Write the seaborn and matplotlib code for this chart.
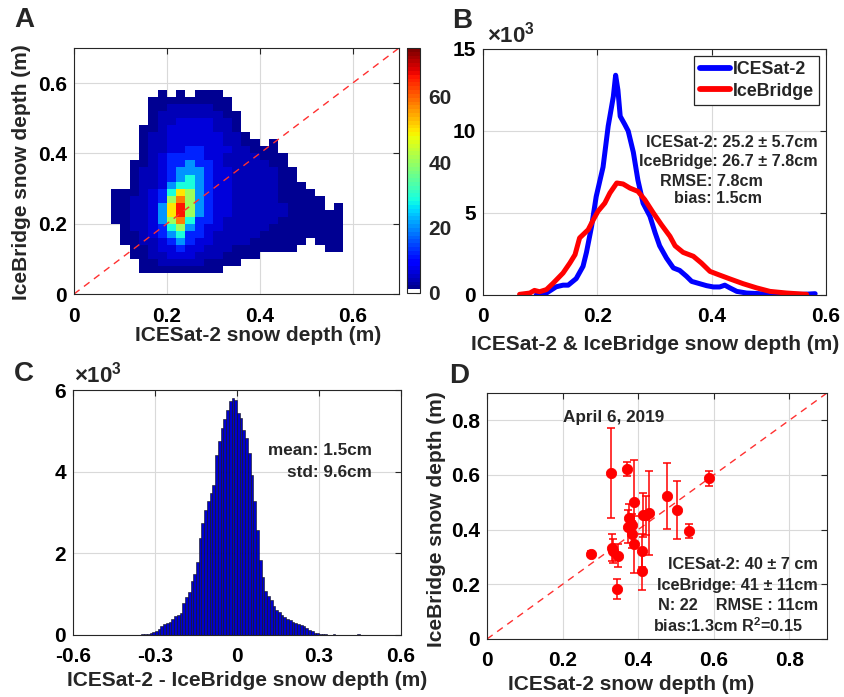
import numpy as np
import pandas as pd
import matplotlib
matplotlib.use("Agg")
import matplotlib.pyplot as plt
from matplotlib.colors import ListedColormap
import seaborn as sns

# ---- A: 2D histogram, counts on a 0.02 m grid ----
dens_x = [0.09, 0.11, 0.13, 0.15, 0.17, 0.19, 0.21, 0.23, 0.25, 0.27, 0.29, 0.31, 0.33,
          0.35, 0.37, 0.39, 0.41, 0.43, 0.45, 0.47, 0.49, 0.51, 0.53, 0.55, 0.57, 0.59]
dens_y = [0.57, 0.55, 0.53, 0.51, 0.49, 0.47, 0.45, 0.43, 0.41, 0.39, 0.37, 0.35, 0.33,
          0.31, 0.29, 0.27, 0.25, 0.23, 0.21, 0.19, 0.17, 0.15, 0.13, 0.11, 0.09, 0.07]
# one string per row (top row first), one character per column
dens_rows = [
    "." * 5 + "1.1.111" + "." * 14,
    "." * 4 + "111111111" + "." * 13,
    "." * 4 + "112222211" + "." * 13,
    "." * 4 + "1222222211" + "." * 12,
    "." * 4 + "1223333221" + "." * 12,
    "." * 3 + "11233333221" + "." * 12,
    "." * 3 + "122333333221" + "." * 11,
    "." * 3 + "1223333332211" + ".1" + "." * 8,
    "." * 3 + "122334433322111" + "." * 8,
    "." * 3 + "1234444332222111" + "." * 7,
    "." * 2 + "11234454432222211" + "." * 7,
    "." * 2 + "122345554332222211" + "." * 6,
    "." * 2 + "122345654332222211" + "." * 6,
    "." * 2 + "1223566543322222111" + "." * 5,
    "1112346875433222221111" + "." * 4,
    "11223479754332222211111" + "." * 3,
    "1122358R754332222221111" + ".1.",
    "1122358R75433222222" + "111111" + ".",
    "112235796443222222" + "1111111" + ".",
    "." + "1223467543322222" + "11111111" + ".",
    "." + "112345644322222" + "111111111" + ".",
    "." + "11223454332222" + "111111" + "." + "111" + ".",
    "." * 2 + "11233433222" + "1111111" + "..." + "11" + ".",
    "." * 2 + "1122333222" + "1111" + "." * 10,
    "." * 3 + "11222221111" + "." * 12,
    "." * 3 + "111111111" + "." * 14,
]
dens_levels = {".": 0, "1": 2, "2": 4, "3": 7, "4": 12, "5": 20, "6": 29,
               "7": 40, "8": 50, "9": 58, "R": 66}
cbar_ticks = [0, 20, 40, 60]

# ---- B: snow depth distributions (counts in thousands) ----
is2_depth = [0.093, 0.111, 0.128, 0.140, 0.149, 0.163, 0.175, 0.181, 0.190, 0.198,
             0.210, 0.219, 0.228, 0.232, 0.236, 0.240, 0.248, 0.254, 0.263, 0.271,
             0.280, 0.292, 0.301, 0.309, 0.321, 0.333, 0.344, 0.356, 0.365, 0.379,
             0.391, 0.403, 0.414, 0.423, 0.432, 0.444, 0.461, 0.485, 0.520, 0.560, 0.581]
is2_count = [0.0, 0.12, 0.5, 0.6, 0.6, 1.0, 1.75, 2.6, 4.2, 6.0,
             7.8, 10.3, 12.1, 13.4, 12.5, 10.9, 10.4, 10.0, 8.7, 7.0,
             5.6, 4.8, 3.8, 3.0, 2.25, 1.65, 1.5, 1.14, 0.83, 0.69,
             0.57, 0.49, 0.49, 0.6, 0.43, 0.22, 0.12, 0.08, 0.04, 0.04, 0.08]
ib_depth = [0.064, 0.082, 0.090, 0.099, 0.111, 0.123, 0.140, 0.152, 0.161, 0.169,
            0.184, 0.193, 0.201, 0.213, 0.222, 0.234, 0.245, 0.257, 0.271, 0.283,
            0.298, 0.312, 0.327, 0.336, 0.350, 0.368, 0.382, 0.397, 0.412, 0.432,
            0.455, 0.479, 0.502, 0.531, 0.566]
ib_count = [0.04, 0.12, 0.28, 0.2, 0.33, 0.73, 1.34, 1.95, 2.46, 3.48,
            3.98, 4.59, 5.1, 5.6, 6.22, 6.83, 6.77, 6.52, 6.32, 5.81,
            5.0, 4.29, 3.58, 3.0, 2.6, 2.36, 1.95, 1.44, 1.24, 0.98,
            0.69, 0.43, 0.22, 0.12, 0.04]

# ---- C: difference histogram, 0.01 m bins starting at -0.38 (thousands) ----
diff_first_edge = -0.38
diff_bin_width = 0.01
diff_counts = [0.01, 0.01, 0.01, 0.02, 0.02, 0.03, 0.05, 0.08, 0.11, 0.15,
               0.21, 0.26, 0.29, 0.33, 0.40, 0.46, 0.50, 0.55, 0.79, 0.92,
               1.05, 1.32, 1.49, 1.80, 2.37, 2.74, 3.06, 3.29, 3.47, 3.68,
               4.41, 4.74, 5.06, 5.30, 5.51, 5.73, 5.81, 5.75, 5.43, 5.31,
               5.02, 4.82, 4.45, 3.92, 3.27, 2.58, 1.84, 1.43, 1.07, 0.95,
               0.85, 0.72, 0.62, 0.56, 0.50, 0.45, 0.40, 0.36, 0.31, 0.30,
               0.28, 0.25, 0.21, 0.17, 0.12, 0.09, 0.06, 0.04, 0.03, 0.02,
               0.02, 0.01, 0.01, 0.02, 0.01, 0.01, 0.01, 0.01, 0.01, 0.01,
               0.01, 0.01, 0.02]

# ---- D: April 6, 2019 segment means ----
d_is2 = [0.275, 0.327, 0.330, 0.334, 0.348, 0.343, 0.370, 0.376, 0.374, 0.383, 0.383,
         0.390, 0.388, 0.414, 0.421, 0.430, 0.409, 0.409, 0.476, 0.502, 0.535, 0.587]
d_ib = [0.311, 0.606, 0.334, 0.322, 0.305, 0.183, 0.622, 0.444, 0.411, 0.417, 0.383,
        0.346, 0.502, 0.454, 0.452, 0.460, 0.323, 0.249, 0.524, 0.472, 0.395, 0.588]
d_ib_err = [0.012, 0.165, 0.050, 0.045, 0.042, 0.035, 0.027, 0.050, 0.060, 0.040, 0.050,
            0.105, 0.152, 0.080, 0.070, 0.153, 0.060, 0.068, 0.121, 0.106, 0.027, 0.028]

ticks_a = [0, 0.2, 0.4, 0.6]
ticks_a_lab = ["0", "0.2", "0.4", "0.6"]
ticks_b_y = [0, 5, 10, 15]
ticks_c_x = [-0.6, -0.3, 0, 0.3, 0.6]
ticks_c_x_lab = ["-0.6", "-0.3", "0", "0.3", "0.6"]
ticks_c_y = [0, 2, 4, 6]
ticks_d = [0, 0.2, 0.4, 0.6, 0.8]
ticks_d_lab = ["0", "0.2", "0.4", "0.6", "0.8"]

sns.set_theme(style="white")
plt.rcParams["font.family"] = ["Liberation Sans", "DejaVu Sans"]
plt.rcParams["font.weight"] = "bold"
plt.rcParams["axes.labelweight"] = "bold"
plt.rcParams["mathtext.fontset"] = "custom"
plt.rcParams["mathtext.rm"] = "Liberation Sans:bold"
plt.rcParams["mathtext.it"] = "Liberation Sans:bold"
plt.rcParams["mathtext.bf"] = "Liberation Sans:bold"

W, H = 845, 697
fig = plt.figure(figsize=(W / 100, H / 100), dpi=100)


def px_axes(left, top, right, bottom):
    return fig.add_axes([left / W, 1 - bottom / H, (right - left) / W, (bottom - top) / H])


def style_axes(ax, xt, xl, yt, yl, xlim, ylim):
    ax.set_xlim(xlim)
    ax.set_ylim(ylim)
    ax.set_xticks(xt, xl)
    ax.set_yticks(yt, yl)
    ax.grid(True, color="#d9d9d9", linewidth=0.8)
    ax.set_axisbelow(True)
    for sp in ax.spines.values():
        sp.set_visible(True)
        sp.set_color("#262626")
        sp.set_linewidth(0.8)
    ax.tick_params(direction="in", length=4, width=0.8, labelsize=15,
                   top=True, right=True, color="#262626", labelcolor="black")
    ax.tick_params(axis="x", pad=9)
    ax.tick_params(axis="y", pad=5)


def fig_label(axis, text, x, y):
    if axis.axis_name == "x":
        axis.axes.set_xlabel(text, fontsize=15, fontweight="bold", va="center")
    else:
        axis.axes.set_ylabel(text, fontsize=15, fontweight="bold", va="center")
    axis.set_label_coords(x / W, 1 - y / H, transform=fig.transFigure)


axA = px_axes(74, 48, 399, 294)
cax = px_axes(407, 48, 420, 293)
axB = px_axes(483, 49, 826, 295)
axC = px_axes(73, 390, 401, 635)
axD = px_axes(487, 393, 827, 639)

# ---- panel A ----
recs = []
for yi, row in zip(dens_y, dens_rows):
    assert len(row) == len(dens_x)
    for xi, ch in zip(dens_x, row):
        if dens_levels[ch] > 0:
            recs.append({"x": xi, "y": yi, "n": dens_levels[ch]})
dens_df = pd.DataFrame(recs)
x_edges = list(np.append(np.array(dens_x) - 0.01, dens_x[-1] + 0.01))
y_edges = list(np.append(np.sort(dens_y) - 0.01, max(dens_y) + 0.01))

jet64 = matplotlib.colormaps["jet"].resampled(64)(np.arange(64))
jet64[0] = [1, 1, 1, 1]
cmap_a = ListedColormap(jet64)

sns.histplot(data=dens_df, x="x", y="y", weights="n", bins=[x_edges, y_edges],
             cmap=cmap_a, cbar=True, cbar_ax=cax, ax=axA)
axA.collections[0].set_clim(0, 75)
axA.axline((0, 0), slope=1, color="#ff3030", linewidth=1, dashes=(5, 4))
style_axes(axA, ticks_a, ticks_a_lab, ticks_a, ticks_a_lab, (0, 0.7), (0, 0.7))
fig_label(axA.xaxis, "ICESat-2 snow depth (m)", 258, 335)
fig_label(axA.yaxis, "IceBridge snow depth (m)", 22, 172)

cax.set_yticks(cbar_ticks, [str(t) for t in cbar_ticks])
cax.tick_params(labelsize=15, length=3, width=0.8, direction="in", pad=6)
for sp in cax.spines.values():
    sp.set_linewidth(0.8)

# ---- panel B ----
df_b = pd.concat([
    pd.DataFrame({"depth": is2_depth, "count": is2_count, "source": "ICESat-2"}),
    pd.DataFrame({"depth": ib_depth, "count": ib_count, "source": "IceBridge"}),
])
sns.lineplot(data=df_b, x="depth", y="count", hue="source",
             palette={"ICESat-2": "#0000ff", "IceBridge": "#ff0000"},
             linewidth=3.6, ax=axB)
style_axes(axB, ticks_a, ticks_a_lab, ticks_b_y, [str(t) for t in ticks_b_y], (0, 0.6), (0, 15))
fig_label(axB.xaxis, "ICESat-2 & IceBridge snow depth (m)", 655, 344)
axB.set_ylabel("")
handles, labels = axB.get_legend_handles_labels()
leg = axB.legend(handles, labels, loc="upper right", bbox_to_anchor=(0.98, 0.972),
                 borderaxespad=0, fancybox=False, framealpha=1, edgecolor="#262626",
                 prop={"size": 12.8, "weight": "bold"}, handlelength=1.7,
                 handletextpad=0.15, borderpad=0.3, labelspacing=0.25)
leg.get_frame().set_linewidth(0.9)
for ln in leg.get_lines():
    ln.set_linewidth(4.2)
b_txt = dict(fontsize=11.6, fontweight="bold", ha="right", va="center")
axB.text(0.586, 9.27, "ICESat-2: 25.2 \u00b1 5.7cm", **b_txt)
axB.text(0.586, 8.11, "IceBridge: 26.7 \u00b1 7.8cm", **b_txt)
axB.text(0.490, 6.95, "RMSE: 7.8cm", **b_txt)
axB.text(0.488, 5.91, "bias: 1.5cm", **b_txt)
fig.text(487 / W, 1 - 42 / H, "\u00d710$^{3}$", fontsize=16, fontweight="bold",
         ha="left", va="baseline")

# ---- panel C ----
diff_centers = diff_first_edge + diff_bin_width * (np.arange(len(diff_counts)) + 0.5)
diff_edges = list(diff_first_edge + diff_bin_width * np.arange(len(diff_counts) + 1))
df_c = pd.DataFrame({"diff": diff_centers, "count": diff_counts})
sns.histplot(data=df_c, x="diff", weights="count", bins=diff_edges, color="#0000cc",
             edgecolor="#101010", linewidth=0.4, alpha=1, ax=axC)
style_axes(axC, ticks_c_x, ticks_c_x_lab, ticks_c_y, [str(t) for t in ticks_c_y],
           (-0.6, 0.6), (0, 6))
fig_label(axC.xaxis, "ICESat-2 - IceBridge snow depth (m)", 247, 681)
axC.set_ylabel("")
c_txt = dict(fontsize=12.3, fontweight="bold", ha="right", va="center")
axC.text(0.494, 4.53, "mean: 1.5cm", **c_txt)
axC.text(0.494, 3.97, "std: 9.6cm", **c_txt)
fig.text(74 / W, 1 - 382 / H, "\u00d710$^{3}$", fontsize=16, fontweight="bold",
         ha="left", va="baseline")

# ---- panel D ----
axD.errorbar(d_is2, d_ib, yerr=d_ib_err, fmt="none", ecolor="#ff0000",
             elinewidth=1.1, capsize=2.6, capthick=1.1, zorder=3)
sns.scatterplot(x=d_is2, y=d_ib, color="#ff0000", edgecolor="#ff0000", s=55,
                zorder=4, ax=axD)
axD.axline((0, 0), slope=1, color="#ff3030", linewidth=1, dashes=(5, 4), zorder=2)
style_axes(axD, ticks_d, ticks_d_lab, ticks_d, ticks_d_lab, (0, 0.9), (0, 0.9))
fig_label(axD.xaxis, "ICESat-2 snow depth (m)", 631, 685)
fig_label(axD.yaxis, "IceBridge snow depth (m)", 436, 519)
d_txt = dict(fontsize=11.7, fontweight="bold", ha="right", va="center")
axD.text(0.336, 0.812, "April 6, 2019", fontsize=12.3, fontweight="bold",
         ha="center", va="center")
axD.text(0.876, 0.274, "ICESat-2: 40 \u00b1 7 cm", **d_txt)
axD.text(0.876, 0.194, "IceBridge: 41 \u00b1 11cm", **d_txt)
axD.text(0.876, 0.121, "N: 22    RMSE : 11cm", **d_txt)
axD.text(0.836, 0.048, "bias:1.3cm R$^{2}$=0.15", **d_txt)

# ---- panel letters ----
for letter, px, py in [("A", 24, 20), ("B", 462, 21), ("C", 24, 374), ("D", 459, 376)]:
    fig.text(px / W, 1 - py / H, letter, fontsize=20, fontweight="bold",
             ha="center", va="center")

fig.savefig("out.png", dpi=100)
